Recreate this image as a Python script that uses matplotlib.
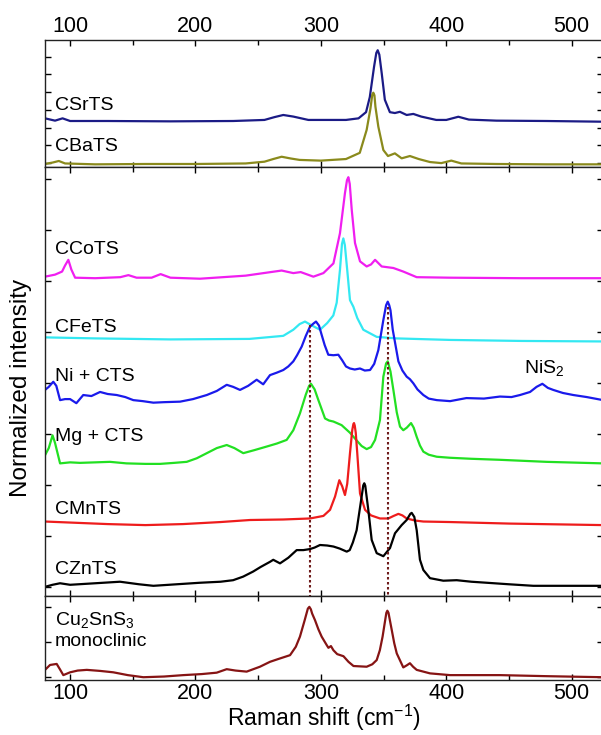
import numpy as np
import matplotlib
matplotlib.use("Agg")
import matplotlib.pyplot as plt

plt.rcParams['font.family'] = ['Liberation Sans', 'DejaVu Sans']
plt.rcParams['mathtext.default'] = 'regular'

# Spectra: (Raman shift in cm-1, stacked intensity)
# top panel
csrts = [(80, 2.75), (88, 2.62), (94, 2.75), (100, 2.6), (130, 2.6),
         (180, 2.58), (230, 2.6), (255, 2.66), (263, 2.82), (270, 2.94),
         (278, 2.85), (290, 2.66), (320, 2.66), (330, 2.75), (336, 3.1),
         (339, 3.95), (342.4, 5.67), (344.2, 6.45), (345.3, 6.6),
         (346.6, 6.35), (348.5, 5.3), (351, 3.8), (355, 3.1), (359, 3.05),
         (363, 3.12), (368.4, 2.94), (373.7, 3.0), (380, 2.85), (392, 2.66),
         (400, 2.66), (409.6, 2.84), (418, 2.68), (440, 2.62), (480, 2.6),
         (525, 2.56)]
cbats = [(80, 0.17), (86, 0.25), (91, 0.34), (96, 0.2), (120, 0.15),
         (160, 0.17), (200, 0.17), (240, 0.2), (255, 0.3), (262, 0.45),
         (268.7, 0.58), (276, 0.48), (283, 0.4), (300, 0.36), (320, 0.45),
         (331, 0.8), (336.5, 2.1), (339.5, 3.3), (341, 4.1), (341.8, 4.2),
         (342.7, 4.05), (343.5, 3.4), (345.8, 2.28), (349.8, 0.96),
         (353.5, 0.62), (359, 0.77), (364.4, 0.49), (371, 0.62), (378, 0.45),
         (387, 0.28), (396, 0.22), (404, 0.36), (412, 0.2), (440, 0.17),
         (480, 0.15), (525, 0.15)]

# middle panel
ccots = [(80, 6.26), (88, 6.3), (93.6, 6.36), (96, 6.48), (98.6, 6.59),
         (101, 6.4), (104, 6.24), (120, 6.23), (140, 6.25), (146.5, 6.29),
         (153, 6.24), (165, 6.24), (172.2, 6.31), (180, 6.24), (203.6, 6.22),
         (240, 6.28), (260, 6.35), (268.7, 6.38), (278, 6.33), (283.9, 6.35),
         (294, 6.26), (302, 6.33), (310, 6.52), (315.2, 7.11), (319.2, 7.9),
         (320.8, 8.15), (321.9, 8.21), (323, 8.08), (324.6, 7.57),
         (327.2, 6.92), (331.2, 6.56), (336.5, 6.46), (340, 6.5),
         (343.2, 6.59), (348.5, 6.46), (357.8, 6.43), (365.7, 6.36),
         (376.4, 6.25), (403, 6.24), (460, 6.23), (525, 6.23)]
cfets = [(80, 5.07), (120, 5.05), (180, 5.03), (243, 5.04), (270, 5.1),
         (278, 5.22), (283, 5.33), (287.3, 5.38), (293, 5.3), (299.3, 5.22),
         (305, 5.35), (309.9, 5.5), (312.6, 5.75), (315.2, 6.39),
         (316.8, 6.9), (317.9, 7.01), (319.1, 6.88), (321, 6.39), (323.2, 5.8),
         (325.9, 5.67), (329, 5.45), (333.8, 5.22), (344.5, 5.08), (360, 5.05),
         (403, 5.02), (460, 5.0), (525, 4.99)]
ni_cts = [(80, 4.04), (83, 4.1), (86.6, 4.2), (89, 4.12), (92, 3.84),
          (96, 3.86), (100, 3.86), (105, 3.78), (110.5, 3.94), (117, 3.92),
          (123.9, 4.0), (130, 3.96), (137.2, 3.94), (144, 3.9), (150.4, 3.84),
          (158, 3.82), (166.4, 3.79), (175, 3.8), (187.7, 3.81), (198, 3.86),
          (209, 3.94), (217, 4.02), (224.9, 4.14), (230, 4.1), (235.5, 4.04),
          (242, 4.12), (248.8, 4.24), (254, 4.15), (259.4, 4.33), (265, 4.38),
          (270, 4.43), (274, 4.5), (278, 4.6), (281, 4.72), (284.7, 4.89),
          (288, 5.1), (291.3, 5.28), (294, 5.34), (296.1, 5.38), (298.5, 5.3),
          (300.6, 5.12), (303, 4.92), (305.9, 4.73), (310, 4.72),
          (313.9, 4.73), (317, 4.62), (320, 4.5), (323.2, 4.46), (327, 4.44),
          (331.2, 4.46), (335, 4.42), (339.2, 4.43), (342.5, 4.55),
          (345.8, 4.82), (349.8, 5.41), (352, 5.7), (353.3, 5.77),
          (354.5, 5.7), (355.5, 5.6), (357.3, 5.22), (361.8, 4.6), (365, 4.42),
          (368.4, 4.3), (371, 4.25), (373.7, 4.17), (377, 4.05), (381.7, 3.94),
          (386, 3.87), (392.4, 3.84), (403, 3.82), (416, 3.88), (430, 3.87),
          (442.8, 3.91), (452, 3.9), (458.8, 3.94), (466.8, 4.0), (472, 4.1),
          (476.6, 4.16), (481, 4.08), (485.3, 4.04), (493, 3.98),
          (501.3, 3.94), (512, 3.9), (525, 3.84)]
mg_cts = [(80, 2.76), (83, 2.9), (86, 3.15), (88, 3.0), (92, 2.6), (100, 2.62),
          (107.9, 2.61), (120, 2.62), (131.8, 2.63), (145, 2.6), (160, 2.59),
          (171.7, 2.59), (183, 2.61), (193, 2.63), (201, 2.7), (209, 2.8),
          (217, 2.9), (224.9, 2.96), (231, 2.9), (238.1, 2.8), (247, 2.86),
          (256.8, 2.93), (265, 2.99), (272.7, 3.06), (278, 3.25), (283.3, 3.58),
          (288, 3.95), (290.6, 4.12), (292.1, 4.16), (295, 4.05), (298, 3.84),
          (303.3, 3.48), (306.5, 3.44), (310, 3.42), (316.5, 3.35),
          (323.2, 3.2), (328.5, 3.05), (332.5, 2.94), (336.5, 2.88),
          (340, 2.92), (343.2, 3.06), (347.1, 3.45), (349.8, 4.3),
          (352, 4.56), (353.3, 4.6), (355.5, 4.4), (357.8, 4.04), (360.5, 3.6),
          (363.1, 3.32), (365.7, 3.25), (368.5, 3.3), (371.9, 3.39), (374, 3.3),
          (376.4, 3.12), (379, 2.95), (381.7, 2.83), (386, 2.77),
          (392.4, 2.73), (403, 2.71), (420, 2.69), (442.8, 2.67), (480, 2.63),
          (525, 2.6)]
cmnts = [(80, 1.46), (100, 1.44), (130, 1.41), (160, 1.39), (190, 1.41),
         (220, 1.45), (243.5, 1.49), (270, 1.5), (291.3, 1.52), (302, 1.57),
         (307.3, 1.69), (311.3, 1.95), (314.7, 2.27), (317, 2.15),
         (319.2, 1.98), (321, 2.2), (323.2, 2.8), (325, 3.25), (325.9, 3.37),
         (326.4, 3.39), (327, 3.34), (327.8, 3.2), (329, 2.8), (331.2, 2.01),
         (335.2, 1.69), (340, 1.58), (347.1, 1.52), (353.8, 1.52), (358, 1.57),
         (361.8, 1.61), (365, 1.58), (368.4, 1.52), (375, 1.48), (381.7, 1.46),
         (403, 1.45), (450, 1.42), (525, 1.39)]
cznts = [(80, 0.18), (86, 0.22), (92, 0.25), (100, 0.22), (120, 0.25),
         (139.8, 0.28), (155, 0.23), (166.4, 0.2), (185, 0.23), (203.6, 0.26),
         (220, 0.28), (230, 0.31), (238, 0.38), (246, 0.48), (252, 0.57),
         (259.4, 0.67), (262, 0.71), (267.4, 0.64), (274, 0.75), (280.7, 0.9),
         (286, 0.9), (291.3, 0.92), (295, 0.95), (299.3, 1.0), (305, 0.99),
         (310, 0.97), (315, 0.93), (320.6, 0.87), (323, 0.9), (325.5, 1.05),
         (328.5, 1.29), (332.5, 1.95), (333.8, 2.17), (334.6, 2.21),
         (335.4, 2.16), (336.2, 2.0), (337.8, 1.69), (340.5, 1.1),
         (344.5, 0.84), (349.8, 0.78), (355.1, 0.94), (359.1, 1.23),
         (364.4, 1.39), (368.4, 1.49), (371.3, 1.61), (372.4, 1.63),
         (374.5, 1.55), (376.4, 1.29), (379, 0.71), (381.7, 0.51), (387, 0.35),
         (397.6, 0.3), (408.3, 0.31), (420, 0.28), (432.2, 0.26), (450, 0.23),
         (469.4, 0.2), (525, 0.2)]

# bottom panel
cu2sns3 = [(80, 0.29), (84, 0.43), (89.3, 0.46), (92, 0.3), (94.6, 0.14),
           (100, 0.22), (106, 0.27), (113.3, 0.29), (124, 0.26), (134.5, 0.22),
           (146, 0.14), (158.4, 0.08), (175, 0.1), (190.3, 0.14), (205, 0.17),
           (216.9, 0.21), (224.9, 0.31), (232, 0.27), (240.8, 0.24),
           (251.4, 0.38), (259.4, 0.52), (266, 0.6), (275.4, 0.71), (280, 0.95),
           (283.3, 1.24), (287, 1.7), (289.6, 2.04), (290.8, 2.09),
           (292, 2.02), (293, 1.9), (295.3, 1.71), (298, 1.45), (300.6, 1.24),
           (304.6, 1.0), (306, 0.92), (308, 0.97), (310, 0.85), (313, 0.74),
           (318, 0.68), (322, 0.52), (326, 0.4), (336.5, 0.38), (341, 0.45),
           (344.5, 0.57), (347, 0.85), (349.2, 1.24), (351, 1.65), (352.2, 1.92),
           (353, 1.98), (353.9, 1.92), (354.8, 1.75), (356.5, 1.43),
           (358.5, 1.05), (360.5, 0.76), (365.7, 0.36), (368.5, 0.42),
           (371, 0.48), (373.5, 0.38), (376.4, 0.29), (387, 0.19), (403, 0.14),
           (442.8, 0.14), (480, 0.11), (525, 0.08)]

# CTS reference peaks marked with dotted lines
cts_peaks = [291.3, 353.3]

TOP_SPECTRA = [(csrts, "CSrTS", "#1b1b86", 3.5),
               (cbats, "CBaTS", "#8a8a1c", 1.15)]
MID_SPECTRA = [(ccots, "CCoTS", "#f01ef0", 6.8),
               (cfets, "CFeTS", "#33e8f2", 5.27),
               (ni_cts, "Ni + CTS", "#1a1aeb", 4.31),
               (mg_cts, "Mg + CTS", "#22e022", 3.12),
               (cmnts, "CMnTS", "#ee1c1c", 1.69),
               (cznts, "CZnTS", "#000000", 0.51)]


def style_axis(ax, yticks):
    ax.set_xlim(80, 525)
    ax.set_xticks([100, 200, 300, 400, 500])
    ax.set_xticks([150, 250, 350, 450], minor=True)
    ax.set_yticks(yticks)
    ax.tick_params(which='both', direction='in', top=True, bottom=True,
                   left=True, right=True, labelleft=False, labelbottom=False,
                   labelsize=15.5, width=1, pad=2)
    ax.tick_params(which='major', length=4.5)
    ax.tick_params(which='minor', length=3.5)
    for s in ax.spines.values():
        s.set_linewidth(1.0)
        s.set_color('#222222')


def main():
    fig = plt.figure(figsize=(6.01, 7.35), dpi=100)
    left = 0.0749
    width = 0.9285
    ax_top = fig.add_axes([left, 0.7728, width, 0.1728])
    ax_mid = fig.add_axes([left, 0.1891, width, 0.5837])
    ax_bot = fig.add_axes([left, 0.0748, width, 0.1143])

    # top panel
    for data, name, col, ty in TOP_SPECTRA:
        x, y = np.array(data).T
        ax_top.plot(x, y, color=col, lw=1.6)
        ax_top.text(88, ty, name, fontsize=14, va='center')
    ax_top.set_ylim(0, 7.18)
    style_axis(ax_top, np.arange(7) + 0.23)
    ax_top.tick_params(axis='x', labeltop=True, pad=2.5)

    # middle panel
    for data, name, col, ty in MID_SPECTRA:
        x, y = np.array(data).T
        ax_mid.plot(x, y, color=col, lw=1.6)
        ax_mid.text(88, ty, name, fontsize=14, va='center')
    ax_mid.text(462, 4.46, "NiS$_2$", fontsize=14, va='center')
    ax_mid.set_ylim(0, 8.41)
    style_axis(ax_mid, np.arange(9) + 0.18)

    # dotted lines from the CTS peaks down to the monoclinic reference
    ax_mid.plot([cts_peaks[0]] * 2, [5.31, -0.2], ls=(0, (1.2, 1.2)),
                color='#6e1b1b', lw=1.5, clip_on=False)
    ax_mid.plot([cts_peaks[1]] * 2, [5.67, -0.27], ls=(0, (1.2, 1.2)),
                color='#6e1b1b', lw=1.5, clip_on=False)

    # bottom panel
    x, y = np.array(cu2sns3).T
    ax_bot.plot(x, y, color='#861414', lw=1.6)
    ax_bot.text(88, 1.71, "Cu$_2$SnS$_3$", fontsize=14, va='center')
    ax_bot.text(88, 1.09, "monoclinic", fontsize=14, va='center')
    ax_bot.set_ylim(0, 2.4)
    style_axis(ax_bot, np.arange(3) + 0.086)
    ax_bot.tick_params(labelbottom=True)
    ax_bot.set_xlabel("Raman shift (cm$^{-1}$)", fontsize=16.5, labelpad=-0.5)

    fig.text(0.035, 0.472, "Normalized intensity", rotation=90,
             fontsize=17.5, ha='center', va='center')

    fig.savefig("out.png", dpi=100)


main()
